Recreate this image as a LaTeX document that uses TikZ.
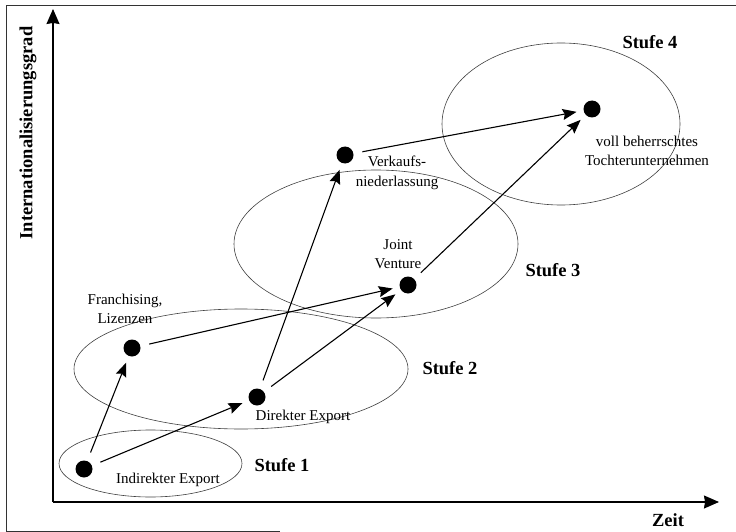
\documentclass[tikz,border=0pt]{standalone}
\usepackage{fontspec}
\setmainfont{Liberation Serif}
\usetikzlibrary{arrows.meta}
\begin{document}
\begin{tikzpicture}[x=1pt,y=-1pt,
 dot/.style={circle,fill=black,inner sep=0pt,minimum size=17pt},
 lbl/.style={font=\fontsize{15}{19.5}\selectfont,align=center,inner sep=0pt},
 stage/.style={font=\fontsize{18.5}{22}\selectfont\bfseries,inner sep=0pt},
 zone/.style={draw=black!75,line width=0.6pt},
 flow/.style={line width=1.1pt,-{Stealth[length=14pt,width=11pt,inset=2pt]},shorten <=9pt,shorten >=7pt},
 axis/.style={line width=1.1pt,-{Stealth[length=15pt,width=13pt,inset=1pt]}},
 frame/.style={line width=0.8pt,draw=black!80}]
\useasboundingbox (0,0) rectangle (736,532);
% scan frame
\draw[frame] (736,5) -- (6,5) -- (6,531) -- (280,531);
% axes
\coordinate (O) at (53,502);
\coordinate (ytop) at (53,9);
\coordinate (xend) at (719,502);
\draw[axis] (O) -- (ytop);
\draw[axis] (O) -- (xend);
\node[stage,rotate=90] (ylab) at (28,133) {Internationalisierungsgrad};
\node[stage] (zeit) at (668,520) {Zeit};
% stage ellipses
\draw[zone] (150.5,463.5) ellipse [x radius=91.5, y radius=33.5];
\draw[zone] (241,369) ellipse [x radius=167, y radius=60];
\draw[zone] (376,244) ellipse [x radius=142, y radius=74];
\draw[zone] (561,124) ellipse [x radius=119, y radius=81];
\node[stage] (s1) at (282,465) {Stufe 1};
\node[stage] (s2) at (450,368) {Stufe 2};
\node[stage] (s3) at (553,270) {Stufe 3};
\node[stage] (s4) at (650,42) {Stufe 4};
% dots
\node[dot] (I) at (84,469) {};
\node[dot] (F) at (132,348) {};
\node[dot] (D) at (257,397) {};
\node[dot] (J) at (408,285) {};
\node[dot] (V) at (345,155) {};
\node[dot] (T) at (592,109) {};
% labels
\node[lbl] (lI) at (168,480) {Indirekter Export};
\node[lbl] (lF) at (125,309) {Franchising,\\Lizenzen};
\node[lbl] (lD) at (303,417) {Direkter Export};
\node[lbl] (lJ) at (398,254) {Joint\\Venture};
\node[lbl] (lV) at (397,173) {Verkaufs-\\niederlassung};
\node[lbl] (lT) at (647,151) {voll beherrschtes\\Tochterunternehmen};
% flows
\draw[flow] (I) -- (F);
\draw[flow] (I) -- (D);
\draw[flow] (F) -- (J);
\draw[flow] (D) -- (V);
\draw[flow] (D) -- (J);
\draw[flow] (V) -- (T);
\draw[flow] (J) -- (T);
\end{tikzpicture}
\end{document}
